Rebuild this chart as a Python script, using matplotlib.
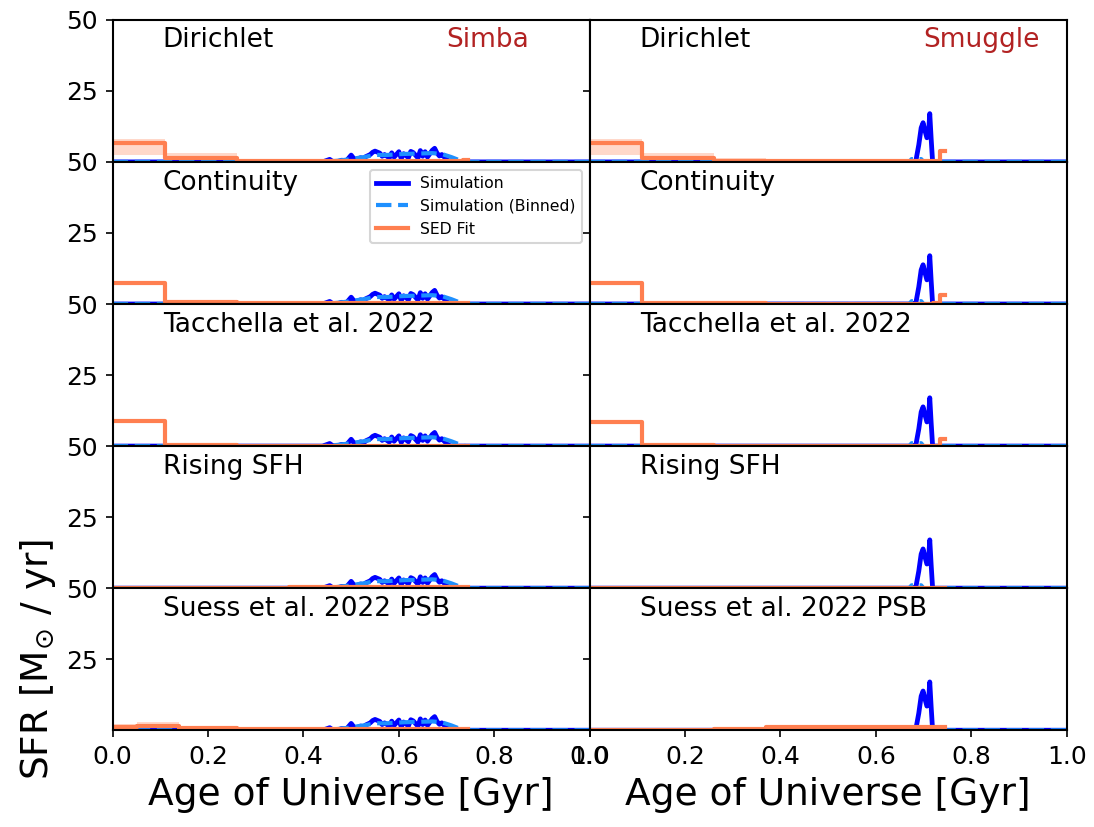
import numpy as np
import matplotlib
matplotlib.use("Agg")
import matplotlib.pyplot as plt

# --- data ---
models = ["Dirichlet", "Continuity", "Tacchella et al. 2022", "Rising SFH", "Suess et al. 2022 PSB"]
sims = ["Simba", "Smuggle"]

# simulation SFHs (age in Gyr, SFR in Msun/yr)
simba_t = [0.0, 0.44, 0.455, 0.46, 0.47, 0.48, 0.49, 0.50, 0.505, 0.51, 0.52, 0.525, 0.53, 0.54,
           0.545, 0.55, 0.56, 0.565, 0.57, 0.58, 0.585, 0.59, 0.60, 0.605, 0.61, 0.62, 0.625,
           0.63, 0.64, 0.645, 0.65, 0.655, 0.66, 0.67, 0.675, 0.68, 0.685, 0.69, 0.70, 0.705,
           0.71, 1.0]
simba_sfr = [0.0, 0.0, 0.9, 0.3, 0.0, 0.6, 0.4, 2.4, 1.3, 0.8, 1.5, 0.7, 1.8, 2.6,
             3.4, 3.8, 3.1, 2.0, 2.6, 1.4, 3.2, 1.7, 3.6, 1.2, 2.9, 1.5, 3.7,
             3.3, 1.4, 4.0, 2.0, 3.6, 1.7, 4.1, 4.8, 3.1, 2.1, 2.6, 0.9, 0.3,
             0.0, 0.0]
simba_bin_t = [0.0, 0.44, 0.47, 0.49, 0.51, 0.53, 0.55, 0.57, 0.59, 0.61, 0.63, 0.65, 0.67, 0.69,
               0.71, 0.73, 0.74, 1.0]
simba_bin_sfr = [0.0, 0.0, 0.4, 0.8, 1.3, 1.8, 2.5, 2.4, 2.6, 2.8, 2.9, 3.0, 3.1, 2.8,
                 1.7, 0.4, 0.0, 0.0]

smuggle_t = [0.0, 0.68, 0.684, 0.690, 0.695, 0.699, 0.703, 0.707, 0.710, 0.713, 0.716, 0.719, 1.0]
smuggle_sfr = [0.0, 0.0, 0.5, 6.0, 12.0, 13.8, 11.0, 8.5, 9.0, 17.0, 8.0, 0.0, 0.0]
smuggle_bin_t = [0.0, 0.67, 0.675, 0.695, 0.70, 1.0]
smuggle_bin_sfr = [0.0, 0.0, 1.0, 1.0, 0.0, 0.0]

# SED fit bin edges (age of universe, Gyr)
edges = [0.0, 0.11, 0.26, 0.37, 0.55, 0.65, 0.72, 0.735, 0.745]
edges_psb = [0.0, 0.05, 0.14, 0.26, 0.37, 0.55, 0.65, 0.72, 0.735, 0.745]

# median SFR per bin, and 16/84 percentiles -- [simba, smuggle] per model
sed_med = {
    "Dirichlet": [[6.8, 1.4, 0.5, 0.2, 0.2, 0.2, 0.3, 0.8], [6.5, 1.4, 0.5, 0.2, 0.2, 0.2, 0.4, 3.8]],
    "Continuity": [[7.5, 0.6, 0.3, 0.2, 0.2, 0.2, 0.3, 0.5], [7.5, 0.5, 0.2, 0.1, 0.1, 0.1, 0.2, 3.3]],
    "Tacchella et al. 2022": [[9.0, 0.3, 0.2, 0.1, 0.1, 0.1, 0.1, 0.2], [8.5, 0.3, 0.2, 0.1, 0.1, 0.1, 0.2, 2.5]],
    "Rising SFH": [[0.1, 0.1, 0.1, 0.3, 0.4, 0.4, 0.4, 0.4], [0.1, 0.1, 0.1, 0.1, 0.2, 0.2, 0.2, 0.2]],
    "Suess et al. 2022 PSB": [[1.2, 1.6, 0.9, 0.5, 0.3, 0.3, 0.3, 0.3, 0.3],
                              [0.1, 0.1, 0.1, 0.5, 1.1, 1.1, 1.1, 1.1, 1.1]],
}
sed_lo = {
    "Dirichlet": [[2.5, 0.6, 0.2, 0.1, 0.1, 0.1, 0.1, 0.3], [2.5, 0.6, 0.2, 0.1, 0.1, 0.1, 0.1, 3.0]],
    "Continuity": [[6.8, 0.4, 0.2, 0.1, 0.1, 0.1, 0.1, 0.3], [6.8, 0.3, 0.1, 0.1, 0.1, 0.1, 0.1, 2.8]],
    "Tacchella et al. 2022": [[8.5, 0.2, 0.1, 0.1, 0.1, 0.1, 0.1, 0.1], [8.0, 0.2, 0.1, 0.1, 0.1, 0.1, 0.1, 2.2]],
    "Rising SFH": [[0.0, 0.0, 0.0, 0.2, 0.3, 0.3, 0.3, 0.3], [0.0, 0.0, 0.0, 0.1, 0.1, 0.1, 0.1, 0.1]],
    "Suess et al. 2022 PSB": [[0.6, 1.0, 0.5, 0.3, 0.2, 0.2, 0.2, 0.2, 0.2],
                              [0.0, 0.0, 0.0, 0.3, 0.8, 0.8, 0.8, 0.8, 0.8]],
}
sed_hi = {
    "Dirichlet": [[8.2, 3.0, 1.2, 0.4, 0.4, 0.4, 0.5, 1.2], [8.0, 3.2, 1.3, 0.5, 0.4, 0.4, 0.6, 4.3]],
    "Continuity": [[8.2, 0.9, 0.4, 0.3, 0.3, 0.3, 0.4, 0.7], [8.2, 0.7, 0.3, 0.2, 0.2, 0.2, 0.3, 3.8]],
    "Tacchella et al. 2022": [[9.5, 0.4, 0.3, 0.2, 0.2, 0.2, 0.2, 0.3], [9.0, 0.4, 0.3, 0.2, 0.2, 0.2, 0.3, 2.8]],
    "Rising SFH": [[0.2, 0.2, 0.2, 0.4, 0.5, 0.5, 0.5, 0.5], [0.2, 0.2, 0.2, 0.2, 0.3, 0.3, 0.3, 0.3]],
    "Suess et al. 2022 PSB": [[2.2, 2.8, 1.5, 0.8, 0.5, 0.5, 0.5, 0.5, 0.5],
                              [0.2, 0.2, 0.2, 0.7, 1.4, 1.4, 1.4, 1.4, 1.4]],
}

sim_data = [(simba_t, simba_sfr, simba_bin_t, simba_bin_sfr),
            (smuggle_t, smuggle_sfr, smuggle_bin_t, smuggle_bin_sfr)]

plt.rcParams["axes.linewidth"] = 1.0
fig, axes = plt.subplots(5, 2, figsize=(1094 / 150, 827 / 150), dpi=150, sharex=True, sharey=True)
fig.subplots_adjust(left=0.103, right=0.975, top=0.976, bottom=0.117, hspace=0, wspace=0)

for i, model in enumerate(models):
    e = edges_psb if model == "Suess et al. 2022 PSB" else edges
    for j, sim in enumerate(sims):
        ax = axes[i, j]
        t, sfr, tb, sfrb = sim_data[j]
        ax.plot(t, sfr, color="blue", lw=2.3, label="Simulation")
        ax.plot(tb, sfrb, color="dodgerblue", lw=2, ls="--", label="Simulation (Binned)")
        med = sed_med[model][j]
        lo = sed_lo[model][j]
        hi = sed_hi[model][j]
        ax.fill_between(e, lo + [lo[-1]], hi + [hi[-1]], step="post", color="coral", alpha=0.3, lw=0)
        ax.step(e, med + [med[-1]], where="post", color="coral", lw=2, label="SED Fit")
        ax.text(0.105, 0.855, model, transform=ax.transAxes, fontsize=12.7, va="center", ha="left")
        if i == 0:
            ax.text(0.70, 0.855, sim, transform=ax.transAxes, fontsize=12.7, va="center", ha="left",
                    color="firebrick")
        ax.set_xlim(0, 1)
        ax.set_ylim(0, 50)
        ax.set_yticks([25, 50])
        ax.set_xticks([0.0, 0.2, 0.4, 0.6, 0.8, 1.0])
        ax.tick_params(labelsize=12)
        if i == 4:
            ax.set_xlabel("Age of Universe [Gyr]", fontsize=18)

axes[1, 0].legend(loc="upper right", fontsize=7.5)
axes[4, 0].set_ylabel(r"SFR [M$_{\odot}$ / yr]", fontsize=18)

fig.savefig("out.png", dpi=150)
